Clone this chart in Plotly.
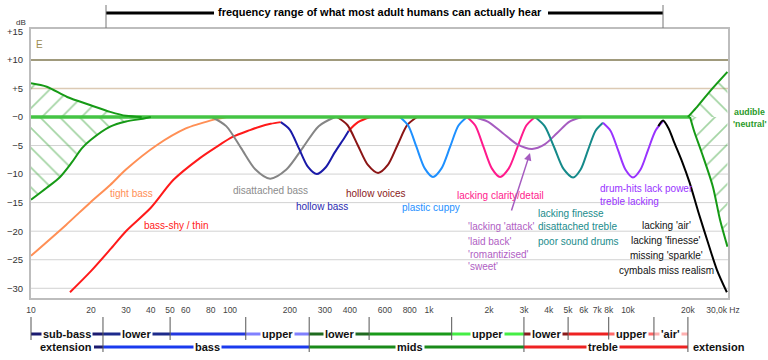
import math
import plotly.graph_objects as go

# ---------------- data ----------------
x_grid_vals = [10, 20, 30, 40, 50, 60, 70, 80, 90, 100, 200, 300, 400, 500, 600, 700, 800, 900,
               1000, 2000, 3000, 4000, 5000, 6000, 7000, 8000, 9000, 10000, 20000, 30000]
x_tick_vals = [10, 20, 30, 40, 50, 60, 80, 100, 200, 300, 400, 600, 800, 1000, 2000, 3000, 4000,
               5000, 6000, 7000, 8000, 10000, 20000, 30000]
x_tick_text = ["10", "20", "30", "40", "50", "60", "80", "100", "200", "300", "400", "600", "800",
               "1k", "2k", "3k", "4k", "5k", "6k", "7k", "8k", "10k", "20k", "30,0k Hz"]
y_tick_vals = [15, 10, 5, 0, -5, -10, -15, -20, -25, -30]
y_tick_text = ["+15", "+10", "+5", "\u22120", "\u22125", "\u221210", "\u221215", "\u221220", "\u221225", "\u221230"]

neutral_f = [10, 20500]
neutral_db = [0, 0]

left_upper_f = [10, 12, 15.2, 19.8, 25, 30, 36]
left_upper_db = [5.9, 5.3, 3.5, 2.1, 0.9, 0.2, 0]
left_lower_f = [10, 12, 14, 16, 18, 20, 25, 30, 36.5, 40]
left_lower_db = [-14.5, -12.4, -10.5, -8, -5.5, -4, -1.7, -0.8, -0.3, 0]
right_upper_f = [20000, 22000, 25800, 31600]
right_upper_db = [0, 1.6, 4.5, 7.9]
right_lower_f = [20500, 21500, 23500, 26700, 29000, 31600]
right_lower_db = [0, -2.5, -6.3, -12.2, -18, -22.7]

tight_f = [10, 15, 19.8, 25, 30, 43, 60, 70, 82, 96]
tight_db = [-24.3, -18.9, -15, -11.9, -9.2, -4.9, -2, -1.2, -0.5, 0]

thin_f = [15.7, 20, 25, 30, 40, 52, 70.6, 85, 103, 126, 141, 160, 180]
thin_db = [-30.7, -27, -23.2, -20, -15.9, -11, -7.2, -5.3, -3.5, -2.3, -1.7, -1.2, -0.9]
thin2_f = [395, 440, 506]
thin2_db = [-2.4, -0.9, 0]

disatt_bass_f = [81, 95.7, 113.5, 134.3, 159, 192, 232, 279, 337]
disatt_bass_db = [0, -1.6, -5.4, -9.2, -10.8, -9.2, -5.4, -1.6, 0]

hollow_bass_f = [180, 199.5, 222, 246, 273, 303, 336, 378, 395]
hollow_bass_db = [-0.9, -2.2, -5.5, -8.7, -10, -8.8, -6.2, -3.5, -2.4]

hollow_voices_f = [345, 389, 438, 493, 555, 621, 695, 778, 871]
hollow_voices_db = [0, -1.4, -4.9, -8.4, -9.8, -8.4, -4.9, -1.4, 0]

cuppy_f = [714, 786, 865, 952, 1047, 1156, 1276, 1406, 1552]
cuppy_db = [0, -1.5, -5.25, -9, -10.5, -9, -5.25, -1.5, 0]

clarity_f = [1552, 1708, 1879, 2068, 2275, 2518, 2786, 3083, 3410]
clarity_db = [0, -1.5, -5.25, -9, -10.5, -9, -5.25, -1.5, 0]

attack_f = [1663, 1972, 2344, 2780, 3296, 3811, 4406, 5082, 5875]
attack_db = [0, -0.8, -2.8, -4.8, -5.6, -4.8, -2.8, -0.8, 0]

finesse_f = [3410, 3811, 4256, 4742, 5300, 5781, 6295, 6871, 7482]
finesse_db = [0, -1.6, -5.3, -9.1, -10.6, -9.2, -5.8, -2.4, -1.0]

drums_f = [7482, 8166, 8913, 9705, 10593, 11561, 12604, 13740, 14997]
drums_db = [-1.0, -2.4, -5.8, -9.2, -10.6, -9.2, -5.8, -2.4, -0.7]

air_f = [14200, 15000, 16000, 17000, 18700, 20400, 22500, 25500, 28000, 31400]
air_db = [-1.6, -0.6, -2.0, -4.3, -7.8, -11.5, -16.5, -22.5, -26.8, -30.7]

band_row1 = [  # (from Hz, to Hz, label)
    (10, 23, "sub-bass"), (23, 50, "lower"), (50, 120, ""), (120, 250, "upper"),
    (250, 500, "lower"), (500, 1300, ""), (1300, 3000, "upper"),
    (3000, 5000, "lower"), (5000, 8000, ""), (8000, 13500, "upper"), (13500, 20000, "'air'")]
band_row2 = [(23, 250, "bass"), (250, 3000, "mids"), (3000, 20000, "treble")]
band_edges_tall = [23, 250, 3000, 20000]
band_edges_short = [10, 50, 120, 500, 1300, 5000, 8000, 13500]

# ---------------- layout helpers ----------------
W, H = 768, 360
L, R, T, B = 31, 40, 29, 62
X0, X1 = 1.0, 4.5025
Y0, Y1 = -31.7, 15.41
FONT = "Liberation Sans, Arial, sans-serif"


def px(xp):
    return (xp - L) / (W - L - R)


def py(yp):
    return (H - B - yp) / (H - T - B)


def fx(f):
    return (math.log10(f) - X0) / (X1 - X0)


fig = go.Figure()


# hatched audibility zones
def hatch(f, db, shape):
    fig.add_trace(go.Scatter(
        x=list(f) + [f[-1], f[0]], y=list(db) + [0, 0], mode="lines", line=dict(width=0),
        fill="toself", fillcolor="rgba(0,0,0,0)",
        fillpattern=dict(shape=shape, fgcolor="#48aa48", bgcolor="rgba(0,0,0,0)",
                         size=14, solidity=0.12),
        hoverinfo="skip"))


hatch(left_upper_f, left_upper_db, "/")
hatch(left_lower_f, left_lower_db, "\\")
hatch(right_upper_f, right_upper_db, "\\")
hatch(right_lower_f, right_lower_db, "/")


def curve(f, db, color, width=2.0):
    fig.add_trace(go.Scatter(x=f, y=db, mode="lines",
                             line=dict(color=color, width=width, shape="spline", smoothing=0.8),
                             hoverinfo="skip"))


curve(tight_f, tight_db, "#ff8f55")
curve(thin_f, thin_db, "#ff1a1a")
curve(disatt_bass_f, disatt_bass_db, "#858585")
curve(hollow_bass_f, hollow_bass_db, "#1a1aa8")
curve(thin2_f, thin2_db, "#ff1a1a")
curve(hollow_voices_f, hollow_voices_db, "#8b1515")
curve(cuppy_f, cuppy_db, "#1e90ff")
curve(clarity_f, clarity_db, "#ff1a8c")
curve(attack_f, attack_db, "#a65cc0")
curve(finesse_f, finesse_db, "#158a8a")
curve(drums_f, drums_db, "#9933ff")
curve(air_f, air_db, "#000000")

curve(neutral_f, neutral_db, "#44c444", 3.5)
curve(left_upper_f, left_upper_db, "#169a16", 2)
curve(left_lower_f, left_lower_db, "#169a16", 2)
curve(right_upper_f, right_upper_db, "#169a16", 2)
curve(right_lower_f, right_lower_db, "#169a16", 2)

shapes = []
# grid
for v in x_grid_vals:
    lv = math.log10(v)
    shapes.append(dict(type="line", xref="x", yref="y", x0=lv, x1=lv, y0=Y0, y1=0,
                       line=dict(color="#d2d2d2", width=1), layer="below"))
    shapes.append(dict(type="line", xref="x", yref="y", x0=lv, x1=lv, y0=0, y1=Y1,
                       line=dict(color="#e0c8ac", width=1), layer="below"))
for v in y_tick_vals:
    if v < 0:
        col, w = "#d2d2d2", 1
    elif v == 5:
        col, w = "#dccab4", 1.5
    elif v == 10:
        col, w = "#a09a7c", 2
    else:
        continue
    shapes.append(dict(type="line", xref="paper", yref="y", x0=0, x1=1, y0=v, y1=v,
                       line=dict(color=col, width=w), layer="below"))

# top range bracket
shapes += [
    dict(type="line", xref="paper", yref="paper", x0=px(106), x1=px(214), y0=py(13), y1=py(13),
         line=dict(color="black", width=3)),
    dict(type="line", xref="paper", yref="paper", x0=px(548), x1=px(663), y0=py(13), y1=py(13),
         line=dict(color="black", width=3)),
    dict(type="line", xref="paper", yref="paper", x0=px(106), x1=px(106), y0=py(5), y1=py(28),
         line=dict(color="#777", width=1)),
    dict(type="line", xref="paper", yref="paper", x0=px(663), x1=px(663), y0=py(5), y1=py(28),
         line=dict(color="#777", width=1)),
]

# band bars
row1_colors = ["#1a1a70", "#1c2a8c", "#2438e0", "#8080ff", "#1f6b1f", "#1a9a1a", "#44ee44",
               "#8b1a1a", "#ee2222", "#ff6a6a", "#ffb0b0"]
row2_colors = ["#1a3aee", "#1a8a1a", "#ee2222"]
Y_R1, Y_R2 = 334, 347
for (f0, f1, lab), c in zip(band_row1, row1_colors):
    shapes.append(dict(type="line", xref="paper", yref="paper", x0=fx(f0), x1=fx(f1),
                       y0=py(Y_R1), y1=py(Y_R1), line=dict(color=c, width=3)))
for (f0, f1, lab), c in zip(band_row2, row2_colors):
    shapes.append(dict(type="line", xref="paper", yref="paper", x0=fx(f0), x1=fx(f1),
                       y0=py(Y_R2), y1=py(Y_R2), line=dict(color=c, width=3)))
shapes.append(dict(type="line", xref="paper", yref="paper", x0=px(94), x1=fx(23),
                   y0=py(Y_R2), y1=py(Y_R2), line=dict(color="#1a1a70", width=3)))
for f in band_edges_tall:
    shapes.append(dict(type="line", xref="paper", yref="paper", x0=fx(f), x1=fx(f),
                       y0=py(317), y1=py(352), line=dict(color="#555", width=1)))
for f in band_edges_short:
    shapes.append(dict(type="line", xref="paper", yref="paper", x0=fx(f), x1=fx(f),
                       y0=py(317), y1=py(340), line=dict(color="#555", width=1)))

annotations = []


def text(t, xp, yp, color, size=10, anchor="center", bold=False, bg=None):
    d = dict(text=("<b>%s</b>" % t) if bold else t, xref="paper", yref="paper",
             x=px(xp), y=py(yp), xanchor=anchor, yanchor="middle", showarrow=False,
             font=dict(family=FONT, size=size, color=color))
    if bg:
        d.update(bgcolor=bg, borderpad=1)
    annotations.append(d)


text("frequency range of what most adult humans can actually hear", 380, 12, "black", 11, bold=True)
text("dB", 21, 22, "#333", 8)
text("E", 39, 45, "#9c8c50", 10)

text("tight bass", 131, 193, "#ff8f55")
text("bass-shy / thin", 176, 225, "#ff1a1a")
text("disattached bass", 270, 191, "#8c8c8c")
text("hollow bass", 322, 206, "#2a2ab0")
text("hollow voices", 375, 193, "#8b1a1a")
text("plastic cuppy", 431, 207, "#1e90ff")
text("lacking clarity/detail", 500, 195, "#ff1a8c")
for t, yy in zip(["'lacking 'attack'", "'laid back'", "'romantizised'", "'sweet'"], [227, 241, 254, 266]):
    text(t, 466, yy, "#b060c4", anchor="left")
for t, yy in zip(["lacking finesse", "disattached treble", "poor sound drums"], [213, 227, 241]):
    text(t, 536, yy, "#1a8c8c", anchor="left")
for t, yy in zip(["drum-hits lack power", "treble lacking"], [188, 201]):
    text(t, 598, yy, "#9933ff", anchor="left")
for t, yy in zip(["lacking 'air'", "lacking 'finesse'", "missing 'sparkle'", "cymbals miss realism"],
                 [225, 240, 255, 270]):
    text(t, 666, yy, "#111")
text("audible", 732, 112, "#2a9a2a", 8.8, anchor="left", bold=True)
text("'neutral'", 731, 124, "#2a9a2a", 8.8, anchor="left", bold=True)

# purple arrow
annotations.append(dict(x=px(530), y=py(153), xref="paper", yref="paper", text="",
                        showarrow=True, ax=-19, ay=59, arrowhead=2, arrowsize=1,
                        arrowwidth=1.5, arrowcolor="#a65cc0"))

# band labels
for f0, f1, lab in band_row1:
    if lab:
        c = (fx(f0) + fx(f1)) / 2
        annotations.append(dict(text="<b>%s</b>" % lab, xref="paper", yref="paper", x=c, y=py(Y_R1),
                                xanchor="center", yanchor="middle", showarrow=False, bgcolor="white",
                                borderpad=1, font=dict(family=FONT, size=11, color="#111")))
for (f0, f1, lab), xc in zip(band_row2, [207, 410, 603]):
    text(lab, xc, Y_R2, "#111", 11, bold=True, bg="white")
text("extension", 66, Y_R2, "#111", 11, bold=True)
text("extension", 719, Y_R2, "#111", 11, bold=True)

fig.update_layout(
    width=W, height=H, margin=dict(l=L, r=R, t=T, b=B, pad=0, autoexpand=False),
    plot_bgcolor="white", paper_bgcolor="white", showlegend=False,
    font=dict(family=FONT),
    shapes=shapes, annotations=annotations,
    xaxis=dict(type="log", range=[X0, X1], tickvals=x_tick_vals, ticktext=x_tick_text,
               showgrid=False, zeroline=False, showline=True, mirror=True, automargin=False,
               linecolor="#bdbdbd", linewidth=2, ticks="outside", ticklen=3, tickangle=0,
               tickcolor="rgba(0,0,0,0)", tickfont=dict(size=8.5, color="#444", family=FONT)),
    yaxis=dict(range=[Y0, Y1], tickvals=y_tick_vals, ticktext=y_tick_text, automargin=False,
               showgrid=False, zeroline=False, showline=True, mirror=True,
               linecolor="#bdbdbd", linewidth=2, ticks="outside", ticklen=4,
               tickcolor="rgba(0,0,0,0)", tickfont=dict(size=9.5, color="#333", family=FONT)),
)

fig.write_html("out.html", config={"displayModeBar": False},
               post_script="document.body.style.margin='0';document.body.style.overflow='hidden';")
